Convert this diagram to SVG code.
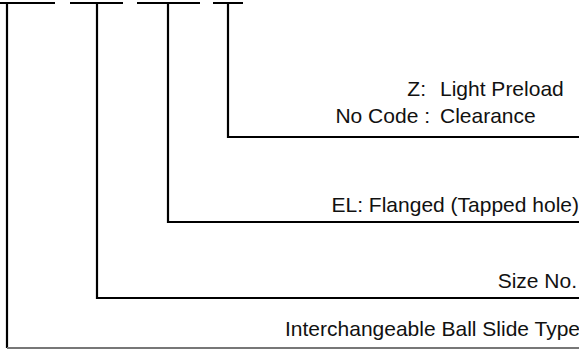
<svg xmlns="http://www.w3.org/2000/svg" width="579" height="349" viewBox="0 0 579 349">
<style>
.ln{fill:none;stroke:#000;stroke-width:2.2}
.gr{fill:none;stroke:#777;stroke-width:1.8}
.t{font-family:"Liberation Sans",Arial,sans-serif;font-size:21px;fill:#111}
.r{text-anchor:end}
</style>
<rect width="579" height="349" fill="#fff"/>
<g id="connectors">
<path class="ln" d="M0 3H55M70 3H123M137 3H200M213 3H243"/>
<path class="ln" d="M7 3V348"/>
<path class="gr" d="M7 348H579"/>
<path class="ln" d="M97 3V298H579"/>
<path class="ln" d="M168 3V222H579"/>
<path class="ln" d="M228 3V137H579"/>
</g>
<g id="preload">
<text class="t r" x="426" y="96">Z:</text>
<text class="t" x="440" y="96">Light Preload</text>
<text class="t r" x="430" y="123">No Code :</text>
<text class="t" x="440" y="123">Clearance</text>
</g>
<g id="flange"><text class="t r" x="579" y="212">EL: Flanged (Tapped hole)</text></g>
<g id="size"><text class="t r" x="577" y="288">Size No.</text></g>
<g id="type"><text class="t r" x="580" y="336">Interchangeable Ball Slide Type</text></g>
</svg>
